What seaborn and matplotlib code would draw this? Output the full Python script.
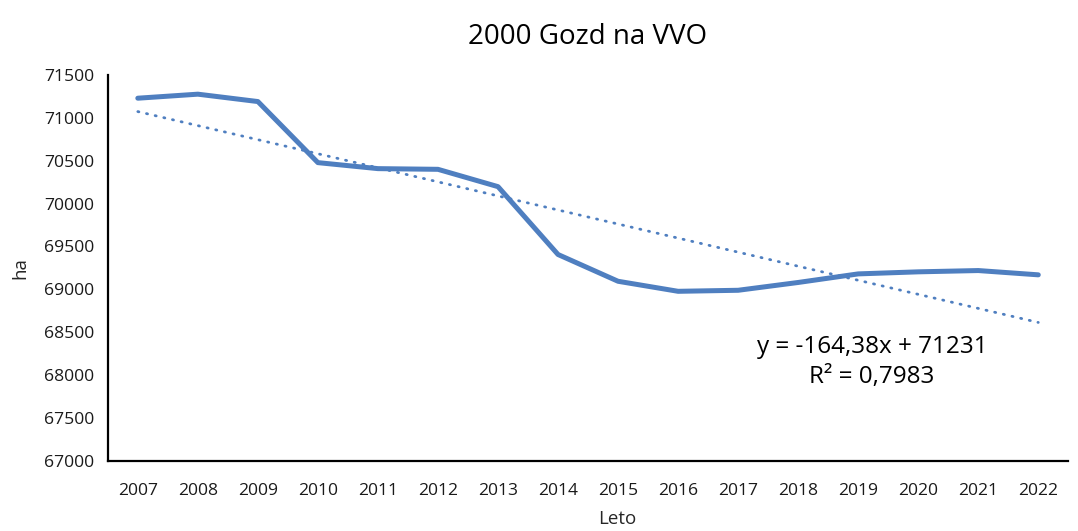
import matplotlib
matplotlib.use('Agg')
import matplotlib.pyplot as plt
import seaborn as sns
import numpy as np
import pandas as pd

# data
years = [2007, 2008, 2009, 2010, 2011, 2012, 2013, 2014,
         2015, 2016, 2017, 2018, 2019, 2020, 2021, 2022]
area_ha = [71228, 71275, 71189, 70477, 70407, 70399, 70197, 69406,
           69094, 68977, 68989, 69080, 69180, 69204, 69219, 69169]
trend_label = "y = -164,38x + 71231\nR² = 0,7983"

df = pd.DataFrame({'Leto': years, 'ha': area_ha})

sns.set_style('white')
plt.rcParams['font.family'] = ['Open Sans', 'DejaVu Sans']

fig = plt.figure(figsize=(10.78, 5.31), dpi=100)
ax = fig.add_axes([0.100, 0.132, 0.891, 0.727])

blue = '#4F7FC0'
sns.lineplot(data=df, x='Leto', y='ha', color=blue, linewidth=3.6, ax=ax)
# linear trend (dotted), as in Excel
sns.regplot(data=df, x='Leto', y='ha', scatter=False, ci=None, ax=ax,
            line_kws={'color': blue, 'linestyle': (0, (0.4, 2.8)), 'linewidth': 2.0,
                      'dash_capstyle': 'round'})

ax.set_xlim(2006.5, 2022.5)
ax.set_ylim(67000, 71500)
ax.set_xticks(years)
ax.set_xticklabels([str(y) for y in years])
ax.set_yticks(range(67000, 71501, 500))
ax.tick_params(length=0, labelsize=12.6, colors='#1a1a1a', pad=10)
ax.tick_params(axis='x', pad=16)

for s in ['top', 'right']:
    ax.spines[s].set_visible(False)
for s in ['left', 'bottom']:
    ax.spines[s].set_color('black')
    ax.spines[s].set_linewidth(1.6)

ax.set_xlabel('Leto', fontsize=13.5, labelpad=8)
ax.set_ylabel('ha', fontsize=13.5, labelpad=10)
ax.xaxis.label.set_position((0.53, 0))
ax.set_title('2000 Gozd na VVO', fontsize=20, pad=22, color='black')

ax.text(2019.23, 68150, trend_label, fontsize=17.5, ha='center', va='center',
        linespacing=1.35, color='black')

fig.savefig('out.png', dpi=100)
